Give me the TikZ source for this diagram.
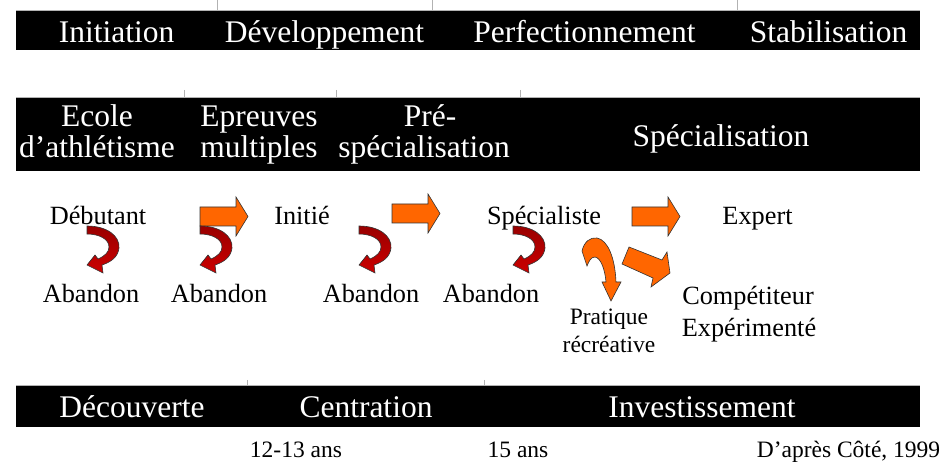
\documentclass[tikz,border=0pt]{standalone}
\usepackage{fontspec}
\setmainfont{Liberation Serif}
\usepackage{xcolor}

\definecolor{stepgo}{HTML}{FF6600}
\definecolor{quitdark}{HTML}{990000}
\definecolor{quitred}{HTML}{CC0000}

\tikzset{
  bartext/.style={text=white, font=\fontsize{15.75}{16}\selectfont, anchor=base, inner sep=0pt},
  stagetext/.style={font=\fontsize{13.15}{16}\selectfont, anchor=base, inner sep=0pt},
  smalltext/.style={font=\fontsize{11.75}{14}\selectfont, anchor=base, inner sep=0pt},
  goshape/.style={fill=stepgo, draw=black!80, line width=0.3pt},
  quitshape/.style={top color=quitdark, bottom color=quitred, draw=black!80, line width=0.3pt},
  cellline/.style={draw=gray!60, line width=0.4pt},
  goarrow/.pic={
    \path[goshape] (0,0) -- (36,0) -- (36,-10) -- (48,9.5) -- (36,29) -- (36,19) -- (0,19) -- cycle;
  },
  quitarrow/.pic={
    \path[quitshape] (0,0) .. controls (20,0) and (33,10) .. (32,22)
      .. controls (31,31) and (24,36) .. (15,39) -- (16,47) -- (0,39) -- (8,29) -- (11,33)
      .. controls (18,30) and (22,26) .. (22,21) .. controls (22,13) and (12,8) .. (0,8) -- cycle;
  }
}

\begin{document}
\begin{tikzpicture}[x=0.5pt, y=-0.5pt]
        \useasboundingbox (0,0) rectangle (943,464);
        % Top bar
        \fill[black] (16,10) rectangle (920,50);
        \draw[cellline] (16,10) -- (920,10);
        \foreach \x in {217,432,737} \draw[cellline] (\x,0) -- (\x,10);
        \node (init) [bartext] at (116.5,43) {Initiation};
        \node (devel) [bartext] at (324.5,43) {Développement};
        \node (perf) [bartext] at (584.5,43) {Perfectionnement};
        \node (stab) [bartext] at (828.5,43) {Stabilisation};
        % Second bar
        \fill[black] (16,97) rectangle (920,171);
        \draw[cellline] (16,97) -- (920,97);
        \foreach \x in {184,336,520} \draw[cellline] (\x,90) -- (\x,97);
        \node (ecoleA) [bartext] at (97,127) {Ecole};
        \node (ecoleB) [bartext] at (97,158) {d’athlétisme};
        \node (multiA) [bartext] at (259,127) {Epreuves};
        \node (multiB) [bartext] at (259,158) {multiples};
        \node (preA) [bartext] at (430,127) {Pré-};
        \node (preB) [bartext] at (424,158) {spécialisation};
        \node (speci) [bartext] at (721,147) {Spécialisation};
        % Stages
        \node (debut) [stagetext] at (98,225) {Débutant};
        \node (initie) [stagetext] at (302,225) {Initié};
        \node (spiste) [stagetext] at (544,225) {Spécialiste};
        \node (expert) [stagetext] at (757.5,225) {Expert};
        \node (abanA) [stagetext] at (91,303) {Abandon};
        \node (abanB) [stagetext] at (219,303) {Abandon};
        \node (abanC) [stagetext] at (371,303) {Abandon};
        \node (abanD) [stagetext] at (491,303) {Abandon};
        \node (pratA) [smalltext] at (609,325) {Pratique};
        \node (pratB) [smalltext] at (609,353) {récréative};
        \node (compA) [stagetext] at (748,305) {Compétiteur};
        \node (compB) [stagetext] at (749,337) {Expérimenté};
        % Arrows forward
        \pic at (200,207) {goarrow};
        \pic at (392,204) {goarrow};
        \pic at (632,207) {goarrow};
        \path[goshape] (629,247) -- (662,260) -- (667,252) -- (670,273) -- (651,287) -- (653,278) -- (622,264) -- cycle;
        \path[goshape] (582,251) .. controls (584,242) and (590,237) .. (597,238)
            .. controls (608,240) and (615,258) .. (616,282) -- (621,282) -- (611,301) -- (602,282) -- (606,282)
            .. controls (605,270) and (601,258) .. (595,257) .. controls (591,257) and (589,261) .. (587,266) -- cycle;
        % Arrows to Abandon
        \foreach \x in {87,200,359,513} \pic at (\x,226) {quitarrow};
        % Bottom bar
        \fill[black] (16,385) rectangle (920,427);
        \draw[cellline] (16,385) -- (920,385);
        \foreach \x in {247,484} \draw[cellline] (\x,380) -- (\x,385);
        \node (decouv) [bartext] at (132,418) {Découverte};
        \node (centr) [bartext] at (366,418) {Centration};
        \node (invest) [bartext] at (702,418) {Investissement};
        \node (ageA) [smalltext] at (296,458) {12-13 ans};
        \node (ageB) [smalltext] at (518,458) {15 ans};
        \node (source) [smalltext] at (848.5,458) {D’après Côté, 1999};
\end{tikzpicture}
\end{document}
